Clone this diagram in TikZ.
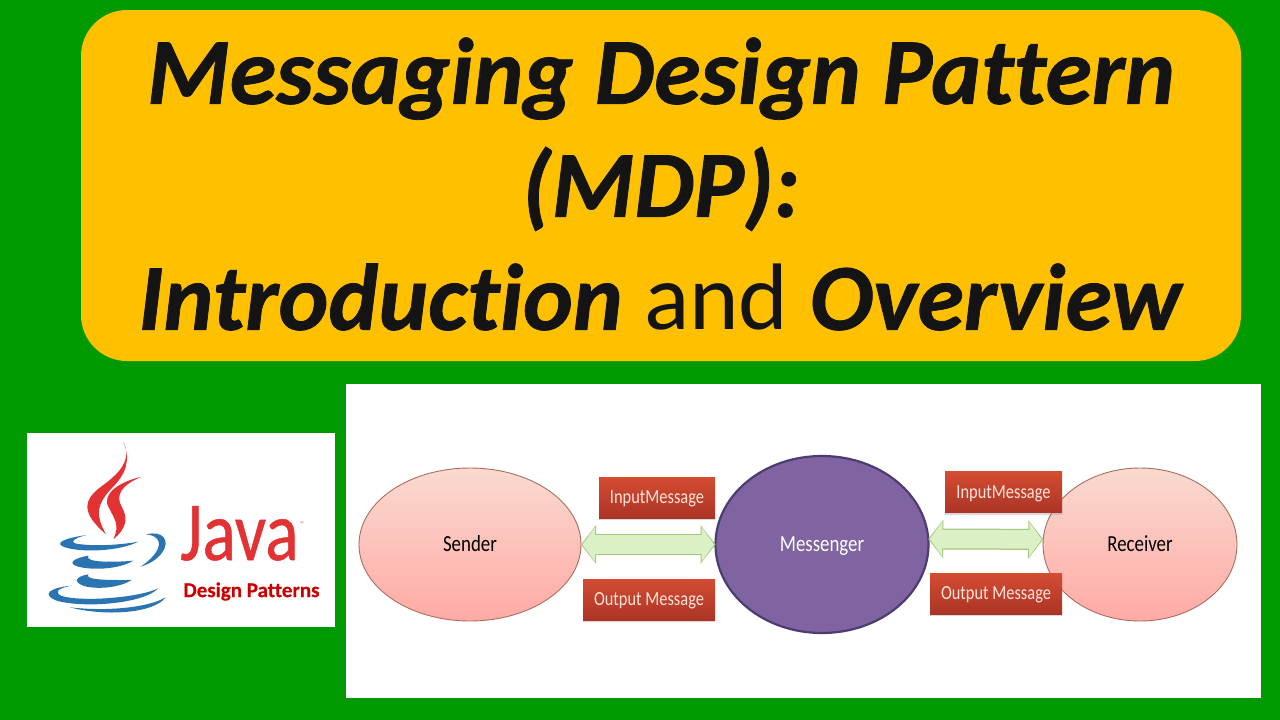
\documentclass[tikz,border=0pt]{standalone}
\usepackage{graphicx}
\usepackage{fontspec}
\setmainfont[Ligatures=NoCommon]{Carlito}
\usetikzlibrary{arrows.meta,shapes.geometric,shadows}
\definecolor{bggreen}{RGB}{0,153,0}
\definecolor{titlegold}{RGB}{255,192,0}
\definecolor{javared}{RGB}{226,50,52}
\definecolor{javablue}{RGB}{42,116,178}
\definecolor{arrowedge}{RGB}{165,200,125}
\definecolor{arrowfill}{RGB}{220,240,198}
\definecolor{peertop}{RGB}{250,218,208}
\definecolor{peerbottom}{RGB}{255,170,165}
\definecolor{peeredge}{RGB}{170,110,95}
\definecolor{boxtop}{RGB}{212,76,50}
\definecolor{boxbottom}{RGB}{172,52,38}
\definecolor{boxtext}{RGB}{250,228,218}
\definecolor{messfill}{RGB}{128,100,162}
\definecolor{messedge}{RGB}{76,60,112}
\newcommand{\narrowtext}[1]{\scalebox{0.82}[1]{#1}}
\tikzset{
  peer/.style={ellipse,draw=peeredge,line width=0.9pt,top color=peertop,bottom color=peerbottom,
    minimum width=222pt,minimum height=153pt,inner sep=0pt,outer sep=0pt,text height=19.8pt,text depth=5pt,font=\fontsize{23}{27}\selectfont},
  msgbox/.style={rectangle,top color=boxtop,bottom color=boxbottom,text=boxtext,
    drop shadow={shadow xshift=0pt,shadow yshift=-2pt,opacity=.3},
    minimum height=41pt,inner sep=0pt,outer sep=0pt,text height=17.9pt,text depth=5pt,font=\fontsize{20}{24}\selectfont},
  linkarrow/.style={draw=arrowedge,line width=21pt,
    arrows={Triangle[length=15pt,width=38pt]-Triangle[length=15pt,width=38pt]},
    postaction={draw=arrowfill,line width=18.5pt,shorten <=1.5pt,shorten >=1.5pt,
      arrows={Triangle[length=12.5pt,width=34pt]-Triangle[length=12.5pt,width=34pt]}}},
  javapart/.style={fill=javablue,draw=none}
}
\begin{document}
\begin{tikzpicture}[x=1pt,y=-1pt]
  \useasboundingbox (0,0) rectangle (1280,720);
  \fill[bggreen] (0,0) rectangle (1280,720);
  \fill[titlegold,rounded corners=46pt] (81,10) rectangle (1241,361);
  \node[align=center,text=black!92,font=\fontsize{94.5}{113}\selectfont,inner sep=0pt] (title) at (661,184)
    {\textbf{\textit{\addfontfeatures{FakeBold=0.8}Messaging Design Pattern}}\\\textbf{\textit{\addfontfeatures{FakeBold=0.8}(MDP):}}\\\textbf{\textit{\addfontfeatures{FakeBold=0.8}Introduction}} and \textbf{\textit{\addfontfeatures{FakeBold=0.8}Overview}}};

  \fill[white] (27,433) rectangle (335,627);
  \begin{scope}[shift={(20,425)},x=0.3333pt,y=-0.3333pt]
    \fill[javared] (310,50) .. controls (335,100) and (305,140) .. (250,180) .. controls (185,225) and (185,265) .. (258,328)
      .. controls (232,280) and (222,245) .. (275,190) .. controls (320,145) and (332,105) .. (310,50);
    \fill[javared] (365,155) .. controls (300,170) and (245,205) .. (265,245) .. controls (285,285) and (300,300) .. (280,343)
      .. controls (320,310) and (325,280) .. (305,245) .. controls (285,210) and (305,180) .. (365,155);
    \fill[javapart] (200,330) .. controls (130,340) and (100,355) .. (135,367) .. controls (190,384) and (300,378) .. (355,350)
      .. controls (290,362) and (205,364) .. (165,355) .. controls (150,350) and (165,338) .. (200,330);
    \fill[javapart] (378,328) .. controls (428,316) and (452,345) .. (427,382) .. controls (412,404) and (385,418) .. (362,425)
      .. controls (392,405) and (422,375) .. (416,350) .. controls (411,337) and (400,330) .. (378,328);
    \fill[javapart] (205,392) .. controls (160,400) and (140,415) .. (175,425) .. controls (220,437) and (300,432) .. (340,407)
      .. controls (290,412) and (190,414) .. (205,392);
    \fill[javapart] (205,448) .. controls (165,455) and (158,472) .. (195,484) .. controls (240,494) and (300,487) .. (335,465)
      .. controls (280,465) and (190,467) .. (205,448);
    \fill[javapart] (155,482) .. controls (90,488) and (62,508) .. (110,527) .. controls (190,550) and (370,537) .. (415,490)
      .. controls (360,517) and (190,532) .. (125,513) .. controls (103,503) and (110,490) .. (155,482);
    \fill[javapart] (150,547) .. controls (250,574) and (400,567) .. (437,517) .. controls (385,548) and (260,560) .. (150,547);
  \end{scope}
  \node[text=javared,font=\fontsize{84}{90}\selectfont\addfontfeatures{FakeBold=0.6},inner sep=0pt,anchor=base west] (javaword) at (180,560) {\scalebox{0.83}[1]{Java}};
  \node[text=javared,font=\fontsize{5}{6}\selectfont,inner sep=0pt] (javatm) at (302,524) {™};
  \node[text=red!80!black,font=\bfseries\fontsize{21}{25}\selectfont\addfontfeatures{FakeBold=0.3},inner sep=0pt] (javasub) at (251.5,591.5) {Design Patterns};

  \fill[white] (346,384) rectangle (1261,698);
  \node[peer] (sender) at (470,544.5) {\narrowtext{Sender}};
  \node[peer,minimum width=194pt] (receiver) at (1140,544.5) {\narrowtext{Receiver}};
  \node[ellipse,draw=messedge,line width=2.2pt,fill=messfill,text=white,minimum width=213pt,minimum height=177pt,
    inner sep=0pt,outer sep=0pt,text height=19.8pt,text depth=5pt,font=\fontsize{23}{27}\selectfont] (messenger) at (822,544.5) {\narrowtext{Messenger}};
  \node[msgbox,minimum width=116pt] (inleft) at (657,497.5) {\narrowtext{InputMessage}};
  \node[msgbox,minimum width=132pt] (outleft) at (649,599.5) {\narrowtext{Output Message}};
  \node[msgbox,minimum width=117pt] (inright) at (1003.5,492) {\narrowtext{InputMessage}};
  \node[msgbox,minimum width=132pt] (outright) at (996,593.5) {\narrowtext{Output Message}};
  \draw[linkarrow] (sender) -- (messenger);
  \draw[linkarrow] (messenger.3) -- (receiver.177);
\end{tikzpicture}
\end{document}
